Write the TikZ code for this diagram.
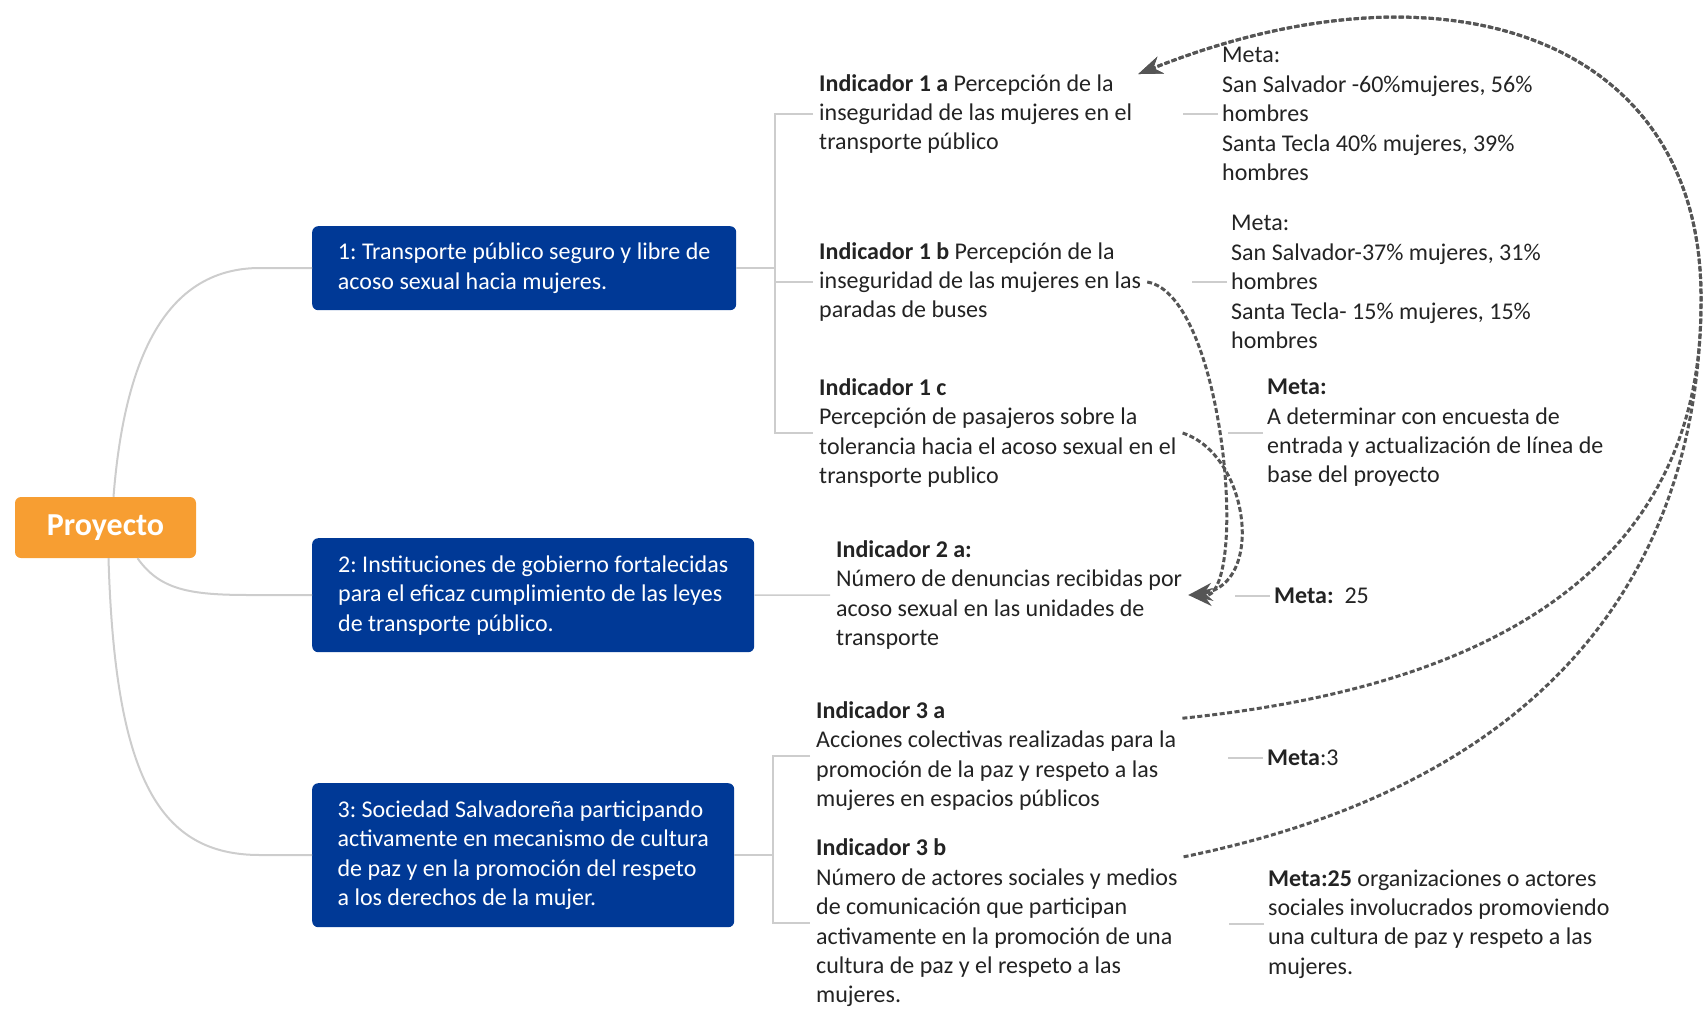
\documentclass[tikz,border=0pt]{standalone}
\usepackage{fontspec}
\setmainfont{Carlito}
\usetikzlibrary{arrows.meta}

\definecolor{goalblue}{RGB}{0,57,150}
\definecolor{projorange}{RGB}{247,158,50}
\definecolor{linkgray}{RGB}{205,205,205}
\definecolor{jumpgray}{RGB}{85,85,85}
\definecolor{textgray}{RGB}{35,35,35}

\begin{document}
\begin{tikzpicture}[x=1pt,y=-1pt,
  every node/.style={font=\frenchspacing\fontsize{24}{29.4}\selectfont, text=textgray},
  proj/.style={fill=projorange, rounded corners=6pt, text=white,
    font=\fontsize{32}{38}\selectfont\bfseries, minimum width=181pt, minimum height=61pt},
  goal/.style={fill=goalblue, rounded corners=6pt, text=white, align=left,
    anchor=north west, inner xsep=21pt},
  ind/.style={align=left, anchor=west, inner xsep=6pt, inner ysep=0pt},
  meta/.style={align=left, anchor=west, inner xsep=4pt, inner ysep=0pt},
  link/.style={draw=linkgray, line width=2pt},
  branch/.style={draw=linkgray, line width=1.5pt},
  jump/.style={draw=jumpgray, line width=3pt, dash pattern=on 5pt off 2.5pt,
    -{Stealth[length=24pt,width=18pt]}}]

  \useasboundingbox (0,0) rectangle (1705,1010);

  % Root
  \node[proj] (proj) at (105.5,527.5) {Proyecto};

  % Goals
  \node[goal, minimum width=424pt, minimum height=84pt] (goal1) at (312,226)
    {1: Transporte público seguro y libre de\\acoso sexual hacia mujeres.};
  \node[goal, minimum width=442pt, minimum height=114pt] (goal2) at (312,538)
    {2: Instituciones de gobierno fortalecidas\\para el eficaz cumplimiento de las leyes\\de transporte público.};
  \node[goal, minimum width=422pt, minimum height=144pt] (goal3) at (312,783)
    {3: Sociedad Salvadoreña participando\\activamente en mecanismo de cultura\\de paz y en la promoción del respeto\\a los derechos de la mujer.};

  % Indicators
  \node[ind] (ind1a) at (813,114)
    {\textbf{Indicador 1 a} Percepción de la\\inseguridad de las mujeres en el\\transporte público};
  \node[ind] (ind1b) at (813,282)
    {\textbf{Indicador 1 b} Percepción de la\\inseguridad de las mujeres en las\\paradas de buses};
  \node[ind] (ind1c) at (813,433)
    {\textbf{Indicador 1 c}\\Percepción de pasajeros sobre la\\tolerancia hacia el acoso sexual en el\\transporte publico};
  \node[ind] (ind2a) at (830,595)
    {\textbf{Indicador 2 a:}\\Número de denuncias recibidas por\\acoso sexual en las unidades de\\transporte};
  \node[ind] (ind3a) at (810,756)
    {\textbf{Indicador 3 a}\\Acciones colectivas realizadas para la\\promoción de la paz y respeto a las\\mujeres en espacios públicos};
  \node[ind] (ind3b) at (810,923)
    {\textbf{Indicador 3 b}\\Número de actores sociales y medios\\de comunicación que participan\\activamente en la promoción de una\\cultura de paz y el respeto a las\\mujeres.};

  % Targets
  \node[meta] (meta1a) at (1218,114)
    {Meta:\\San Salvador -60\%mujeres, 56\%\\hombres\\Santa Tecla 40\% mujeres, 39\%\\hombres};
  \node[meta] (meta1b) at (1227,282)
    {Meta:\\San Salvador-37\% mujeres, 31\%\\hombres\\Santa Tecla- 15\% mujeres, 15\%\\hombres};
  \node[meta] (meta1c) at (1263,433)
    {\textbf{Meta:}\\A determinar con encuesta de\\entrada y actualización de línea de\\base del proyecto};
  \node[meta] (meta2a) at (1270,596) {\textbf{Meta:}\ \ 25};
  \node[meta] (meta3a) at (1263,758) {\textbf{Meta}:3};
  \node[meta] (meta3b) at (1264,924)
    {\textbf{Meta:25} organizaciones o actores\\sociales involucrados promoviendo\\una cultura de paz y respeto a las\\mujeres.};

  % Root links
  \draw[link] ([xshift=8pt]proj.north) .. controls (125,350) and (170,268) .. (260,268) -- (goal1.west);
  \draw[link] ([xshift=32pt]proj.south) .. controls (160,590) and (190,595) .. (250,595) -- (goal2.west);
  \draw[link] ([xshift=3pt]proj.south) .. controls (115,780) and (160,855) .. (260,855) -- (goal3.west);

  % Brackets
  \coordinate (fork1) at (775,0);
  \coordinate (fork3) at (773,0);
  \draw[branch] (goal1.east) -- (goal1.east -| fork1);
  \draw[branch] (ind1a.west) -| (fork1 |- ind1c.west) -- (ind1c.west);
  \draw[branch] (fork1 |- ind1b.west) -- (ind1b.west);
  \draw[branch] (goal2.east) -- (ind2a.west);
  \draw[branch] (goal3.east) -- (goal3.east -| fork3);
  \draw[branch] (ind3a.west) -| (fork3 |- ind3b.west) -- (ind3b.west);

  % Target stubs
  \foreach \m in {meta1a,meta1b,meta1c,meta2a,meta3a,meta3b}
    \draw[branch] (\m.west) -- ++(-35,0);

  % Dashed relations
  \coordinate (bend) at (1701,300);
  \draw[jump] (ind1b.east) .. controls (1225,295) and (1250,600) .. (ind2a.east);
  \draw[jump] (ind1c.east) .. controls (1250,455) and (1265,585) .. (ind2a.east);
  \draw[jump] ([yshift=-17pt]ind3a.north east) .. controls (1560,680) and (1703,520) .. (bend)
    .. controls (1703,40) and (1450,-50) .. (ind1a.north east);
  \draw[jump] ([yshift=-18pt]ind3b.north east) .. controls (1560,780) and (1700,560) .. (bend)
    .. controls (1703,40) and (1450,-50) .. (ind1a.north east);
\end{tikzpicture}
\end{document}
